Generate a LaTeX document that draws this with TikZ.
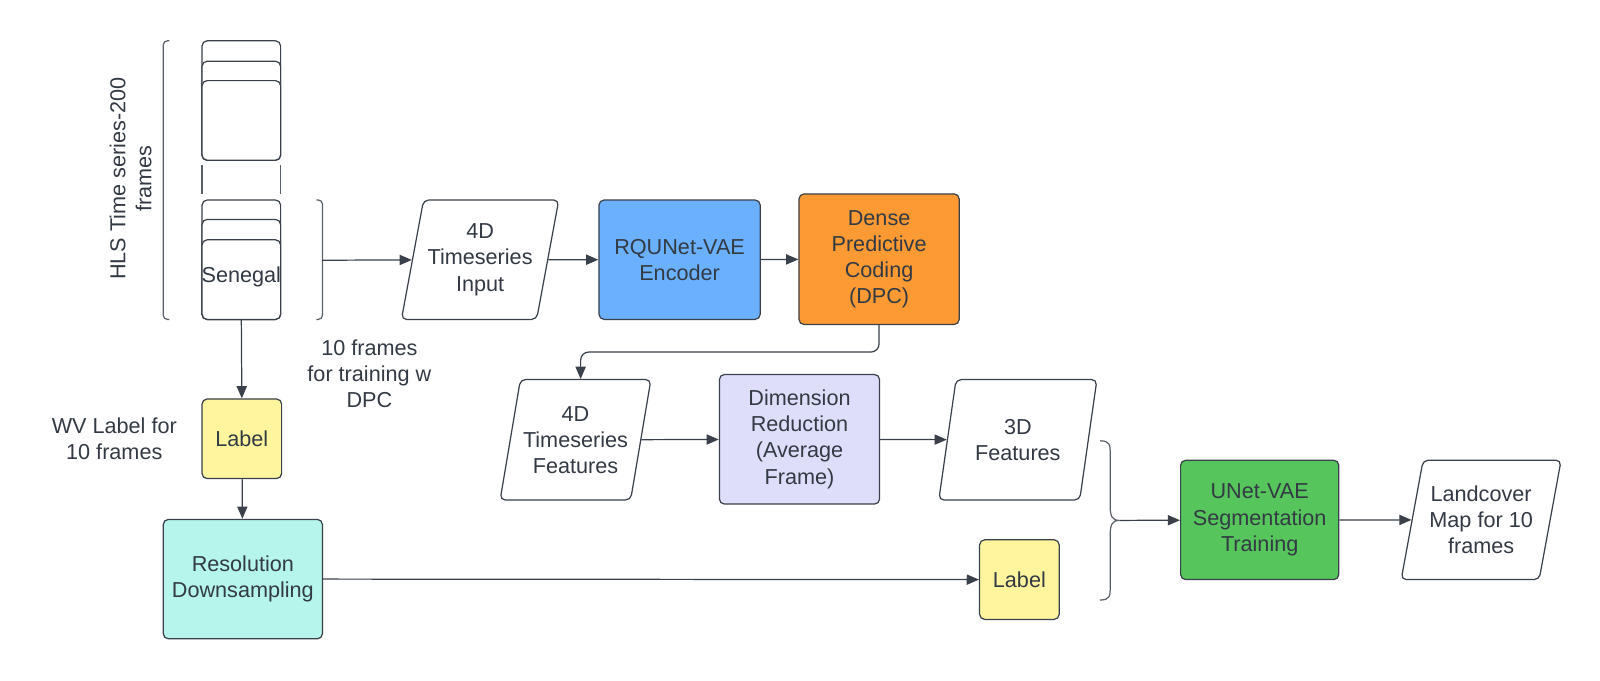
\documentclass[tikz,border=0pt]{standalone}
\usepackage{fontspec}
\setmainfont{Liberation Sans}
\usetikzlibrary{shapes.geometric,arrows.meta,calc}
\definecolor{txt}{HTML}{333A44}
\definecolor{linec}{HTML}{3A414A}
\definecolor{brkc}{HTML}{5A6068}
\definecolor{yel}{HTML}{FFF59F}
\definecolor{cyanf}{HTML}{B5F5EB}
\definecolor{bluef}{HTML}{6AB0FF}
\definecolor{orangef}{HTML}{FD9A33}
\definecolor{lavf}{HTML}{DEDEFB}
\definecolor{greenf}{HTML}{56C55C}
\begin{document}
\begin{tikzpicture}[x=0.5pt,y=-0.5pt,
  every node/.style={font=\fontsize{10.6}{12.8}\selectfont, text=txt},
  box/.style={draw=linec, line width=0.6pt, rounded corners=2.5pt, align=center, inner sep=0pt},
  para/.style={draw=linec, line width=0.6pt, trapezium, trapezium left angle=74, trapezium right angle=106, trapezium stretches=true, rounded corners=2.5pt, align=center, inner sep=0pt, fill=white},
  conn/.style={draw=linec, line width=0.6pt, -{Triangle[length=6pt,width=5pt]}},
  brk/.style={draw=brkc, line width=0.6pt, rounded corners=2pt},
  plain/.style={align=center, inner sep=0pt}
]
\useasboundingbox[fill=white] (0,0) rectangle (1568,666.4);

% left bracket and label
\draw[brk] (166,40) -| (160,313) -- (166,313);
\node[plain, rotate=90] (hls) at (128,175) {HLS Time series-200\\frames};

% top stack
\node[box, fill=white, minimum width=38.5pt, minimum height=58.5pt] (t1) at (236.5,98.5) {};
\node[box, fill=white, minimum width=38.5pt, minimum height=48.5pt] (t2) at (236.5,108.5) {};
\node[box, fill=white, minimum width=38.5pt, minimum height=39pt] (t3) at (236.5,118) {};
\coordinate (g1a) at (198,162); \coordinate (g1b) at (198,190);
\coordinate (g2a) at (275,162); \coordinate (g2b) at (275,190);
\draw[draw=brkc, line width=0.6pt] (g1a) -- (g1b) (g2a) -- (g2b);

% bottom stack
\node[box, fill=white, minimum width=38.5pt, minimum height=58.5pt] (s1) at (236.5,254.5) {};
\node[box, fill=white, minimum width=38.5pt, minimum height=49pt] (s2) at (236.5,264) {};
\node[box, fill=white, minimum width=38.5pt, minimum height=39pt] (sen) at (236.5,274) {};
\node[plain] (sentxt) at (236.5,271) {Senegal};

% right bracket
\draw[brk] (310,196) -| (316,313) -- (310,313);
\coordinate (rbtip) at (316,255);

\node[plain] (tenf) at (362,366) {10 frames\\for training w\\DPC};
\node[plain] (wv) at (112,430) {WV Label for\\10 frames};

% left column
\node[box, fill=yel, minimum width=39pt, minimum height=39pt] (lab1) at (237,430) {Label};
\node[box, fill=cyanf, minimum width=78pt, minimum height=58.5pt] (res) at (238,567.5) {Resolution\\Downsampling};
\node[box, fill=yel, minimum width=39pt, minimum height=39pt] (lab2) at (999,568) {Label};

% top row
\node[para, minimum width=77.5pt, minimum height=58.5pt] (in4d) at (470.5,254.5) {4D\\Timeseries\\Input};
\node[box, fill=bluef, minimum width=79pt, minimum height=58.5pt] (rqu) at (666,254.5) {RQUNet-VAE\\Encoder};
\node[box, fill=orangef, minimum width=78.5pt, minimum height=64pt] (dpc) at (861.5,254) {Dense\\Predictive\\Coding\\(DPC)};

% middle row
\node[para, minimum width=74pt, minimum height=59pt] (f4d) at (564,431) {4D\\Timeseries\\Features};
\node[box, fill=lavf, minimum width=78.5pt, minimum height=63.5pt] (dr) at (783.5,430.5) {Dimension\\Reduction\\(Average\\Frame)};
\node[para, minimum width=77.5pt, minimum height=59pt] (f3d) at (997.5,431) {3D\\Features};

% brace
\draw[brk, rounded corners=0pt] (1078,432) .. controls (1088,432) and (1088,436) .. (1088,446) -- (1088,496) .. controls (1088,506) and (1090,510) .. (1097,510) .. controls (1090,510) and (1088,514) .. (1088,524) -- (1088,574) .. controls (1088,584) and (1088,588) .. (1078,588);
\coordinate (bt) at (1097,510);

% right
\node[box, fill=greenf, minimum width=77.5pt, minimum height=58.5pt] (unet) at (1234.5,509.5) {UNet-VAE\\Segmentation\\Training};
\node[para, minimum width=78.5pt, minimum height=58.5pt] (land) at (1451.5,509.5) {Landcover\\Map for 10\\frames};

% connectors
\draw[conn] (rbtip) -- (in4d);
\draw[conn] (in4d) -- (rqu);
\draw[conn] (rqu) -- (dpc);
\draw[conn, rounded corners=4pt] (dpc.south) -- (dpc.south |- 0,345) -| ($(f4d.north)+(2.5pt,0)$);
\draw[conn] (f4d) -- (dr);
\draw[conn] (dr) -- (f3d);
\draw[conn] (bt) -- (unet);
\draw[conn] (unet) -- (land);
\draw[conn] (sen.south) -- (lab1.north);
\draw[conn] (lab1) -- (res);
\draw[conn] (res.east) -- (lab2.west);
\end{tikzpicture}
\end{document}
